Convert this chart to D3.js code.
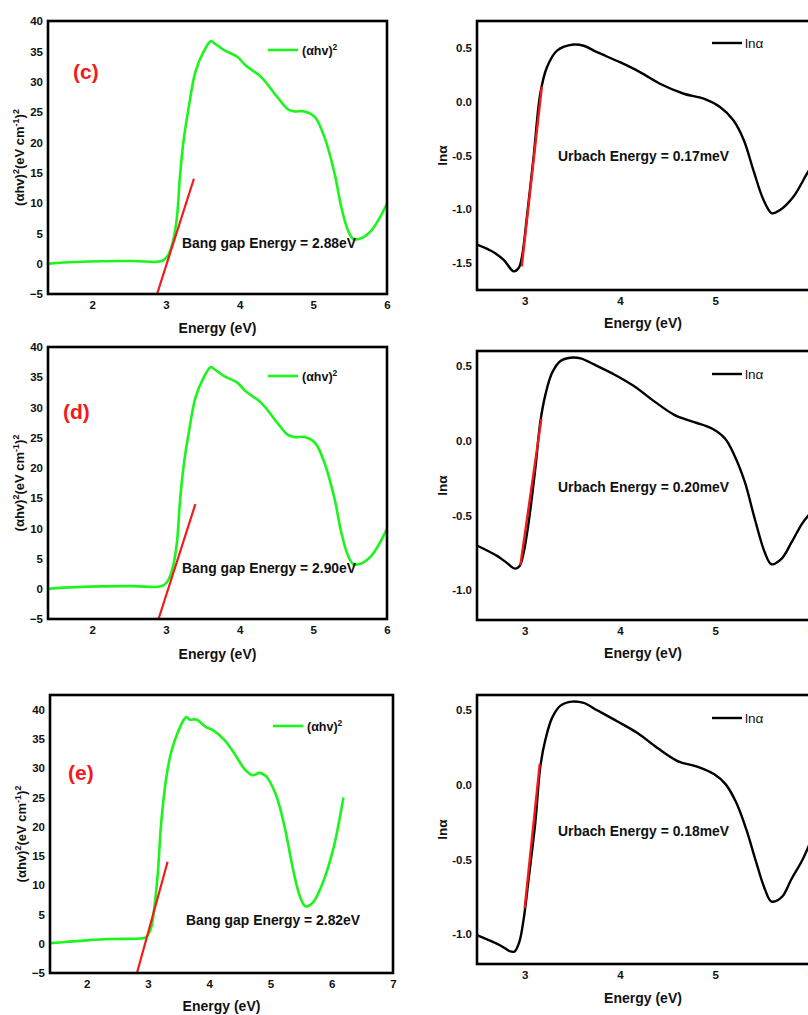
<!DOCTYPE html>
<html>
<head>
<meta charset="utf-8">
<script src="https://cdn.jsdelivr.net/npm/d3@7"></script>
<style>
  html, body { margin: 0; padding: 0; background: #fff; }
  svg { display: block; font-family: "Liberation Sans", Arial, sans-serif; }
  .tick text { font-weight: bold; font-size: 11.5px; fill: #111; }
</style>
</head>
<body>
<svg id="chart" width="808" height="1015"></svg>
<script>
// ---- Tauc plots: (αhν)² versus photon energy ----
const taucEnergyC = [1.41, 1.78, 2.56, 2.87, 2.965, 3.03, 3.10, 3.15, 3.19, 3.24, 3.31, 3.40, 3.51, 3.61, 3.65, 3.79, 3.97, 4.08, 4.29, 4.51, 4.65, 4.74, 4.88, 5.02, 5.15, 5.29, 5.38, 5.47, 5.54, 5.63, 5.79, 6.0];
const taucValueC  = [0.0, 0.27, 0.44, 0.30, 0.55, 1.4, 3.9, 7.7, 14.3, 20.3, 25.8, 31.6, 34.9, 36.7, 36.4, 35.2, 34.1, 32.7, 30.8, 27.5, 25.5, 25.1, 25.1, 24.2, 20.9, 14.8, 9.3, 5.5, 4.1, 4.1, 5.5, 9.9];

const taucEnergyD = [1.41, 1.78, 2.56, 2.87, 2.965, 3.03, 3.10, 3.15, 3.19, 3.24, 3.31, 3.40, 3.51, 3.61, 3.65, 3.79, 3.97, 4.08, 4.29, 4.51, 4.65, 4.74, 4.88, 5.02, 5.15, 5.29, 5.38, 5.47, 5.54, 5.63, 5.79, 6.0];
const taucValueD  = [0.0, 0.27, 0.44, 0.30, 0.55, 1.4, 3.9, 7.7, 14.3, 20.3, 25.8, 31.6, 34.9, 36.7, 36.4, 35.2, 34.1, 32.7, 30.8, 27.5, 25.5, 25.1, 25.1, 24.2, 20.9, 14.8, 9.3, 5.5, 4.1, 4.1, 5.5, 9.9];

const taucEnergyE = [1.40, 1.66, 1.99, 2.37, 2.86, 2.97, 3.05, 3.105, 3.16, 3.215, 3.30, 3.38, 3.49, 3.60, 3.63, 3.68, 3.79, 3.95, 4.06, 4.25, 4.41, 4.58, 4.71, 4.82, 4.93, 5.09, 5.23, 5.37, 5.48, 5.57, 5.69, 5.83, 6.02, 6.19];
const taucValueE  = [0.1, 0.3, 0.57, 0.8, 0.9, 1.1, 2.7, 6.4, 12.0, 20.6, 28.5, 32.8, 36.2, 38.5, 38.75, 38.3, 38.3, 37.0, 36.5, 34.8, 32.5, 29.8, 28.8, 29.2, 28.6, 25.4, 20.0, 12.6, 8.1, 6.4, 7.0, 9.8, 16.0, 25.0];

// optical band gaps (eV) – the tangent is drawn up from each value
const bandGaps = [2.88, 2.90, 2.82];

// ---- Urbach plots: ln α versus photon energy ----
const urbachEnergyC = [2.507, 2.657, 2.78, 2.885, 2.937, 2.972, 3.024, 3.094, 3.164, 3.234, 3.34, 3.514, 3.62, 3.76, 4.0, 4.21, 4.42, 4.67, 4.88, 5.05, 5.19, 5.30, 5.40, 5.507, 5.594, 5.68, 5.82, 5.975, 6.05];
const urbachValueC  = [-1.33, -1.39, -1.47, -1.577, -1.546, -1.44, -1.068, -0.512, 0.074, 0.32, 0.475, 0.531, 0.52, 0.46, 0.367, 0.275, 0.167, 0.074, 0.028, -0.05, -0.173, -0.358, -0.636, -0.914, -1.037, -1.006, -0.883, -0.651, -0.56];

const urbachEnergyD = [2.505, 2.71, 2.81, 2.90, 2.947, 2.99, 3.042, 3.112, 3.165, 3.218, 3.288, 3.376, 3.48, 3.587, 3.728, 3.94, 4.15, 4.36, 4.57, 4.78, 4.96, 5.10, 5.20, 5.31, 5.415, 5.52, 5.59, 5.697, 5.80, 5.91, 5.99, 6.05];
const urbachValueD  = [-0.703, -0.771, -0.816, -0.856, -0.838, -0.748, -0.546, -0.187, 0.128, 0.308, 0.454, 0.533, 0.555, 0.551, 0.51, 0.443, 0.364, 0.263, 0.173, 0.124, 0.083, 0.016, -0.097, -0.276, -0.524, -0.748, -0.827, -0.789, -0.681, -0.557, -0.49, -0.44];

const urbachEnergyE = [2.505, 2.745, 2.85, 2.895, 2.944, 2.99, 3.042, 3.112, 3.165, 3.218, 3.288, 3.376, 3.497, 3.62, 3.76, 3.97, 4.18, 4.39, 4.605, 4.81, 4.99, 5.11, 5.22, 5.325, 5.43, 5.52, 5.59, 5.697, 5.80, 5.91, 5.99, 6.05];
const urbachValueE  = [-1.009, -1.076, -1.116, -1.116, -1.053, -0.898, -0.631, -0.253, 0.124, 0.302, 0.447, 0.529, 0.556, 0.547, 0.498, 0.424, 0.347, 0.247, 0.158, 0.12, 0.069, 0.002, -0.12, -0.298, -0.52, -0.698, -0.782, -0.753, -0.631, -0.509, -0.398, -0.32];

// linear fits over the absorption edge (start, end)
const urbachFitEnergyC = [2.97, 3.18], urbachFitValueC = [-1.53, 0.14];
const urbachFitEnergyD = [2.955, 3.175], urbachFitValueD = [-0.834, 0.146];
const urbachFitEnergyE = [3.0, 3.158], urbachFitValueE = [-0.827, 0.136];
const urbachEnergies = ["0.17", "0.20", "0.18"];

// ---- tick labels ----
const taucTicksX = [2, 3, 4, 5, 6];
const taucTicksXWide = [2, 3, 4, 5, 6, 7];
const taucTicksY = [-5, 0, 5, 10, 15, 20, 25, 30, 35, 40];
const urbachTicksX = [3, 4, 5, 6, 7];
const urbachTicksYC = [-1.5, -1.0, -0.5, 0.0, 0.5];
const urbachTicksYDE = [-1.0, -0.5, 0.0, 0.5];
const panelTags = ["(c)", "(d)", "(e)"];

const GREEN = "#1cf51c", RED = "#f21a1a";
const svg = d3.select("#chart");

function frame(g, x, y) {
  g.append("rect")
    .attr("x", x.range()[0]).attr("y", y.range()[1])
    .attr("width", x.range()[1] - x.range()[0])
    .attr("height", y.range()[0] - y.range()[1])
    .attr("fill", "none").attr("stroke", "#000").attr("stroke-width", 2.6);
}

function axes(g, x, y, xt, yt, fmt) {
  const ax = g.append("g").attr("transform", `translate(0,${y.range()[0]})`)
    .call(d3.axisBottom(x).tickValues(xt).tickSize(0).tickPadding(7).tickFormat(d3.format("d")));
  const ay = g.append("g").attr("transform", `translate(${x.range()[0]},0)`)
    .call(d3.axisLeft(y).tickValues(yt).tickSize(0).tickPadding(5).tickFormat(fmt));
  [ax, ay].forEach(a => { a.select(".domain").remove(); a.selectAll("text").attr("font-family", null); });
}

function tauc(i, box, xDomain, yDomain, xt, energy, value, pos) {
  const g = svg.append("g");
  const x = d3.scaleLinear().domain(xDomain).range([box.x0, box.x1]);
  const y = d3.scaleLinear().domain(yDomain).range([box.y1, box.y0]);
  const clipId = "clip-t" + i;
  g.append("clipPath").attr("id", clipId).append("rect")
    .attr("x", box.x0).attr("y", box.y0).attr("width", box.x1 - box.x0).attr("height", box.y1 - box.y0);
  const pts = energy.map((e, k) => [e, value[k]]);
  const line = d3.line().x(d => x(d[0])).y(d => y(d[1])).curve(d3.curveCatmullRom.alpha(0.5));
  g.append("path").datum(pts).attr("d", line).attr("clip-path", `url(#${clipId})`)
    .attr("fill", "none").attr("stroke", GREEN).attr("stroke-width", 2.6);
  // tangent extrapolated down to the energy axis
  const eg = bandGaps[i];
  g.append("line")
    .attr("x1", x(eg)).attr("y1", y(yDomain[0]))
    .attr("x2", x(eg + 0.5)).attr("y2", y(14))
    .attr("stroke", RED).attr("stroke-width", 2.2);
  frame(g, x, y);
  axes(g, x, y, xt, taucTicksY, d3.format("d"));

  // legend
  g.append("line").attr("x1", pos.legX).attr("x2", pos.legX + 30)
    .attr("y1", pos.legY).attr("y2", pos.legY)
    .attr("stroke", GREEN).attr("stroke-width", 2.6);
  const lt = g.append("text").attr("x", pos.legX + 34).attr("y", pos.legY + 4.5)
    .attr("font-size", 12.5).attr("font-weight", "bold").attr("fill", "#111");
  lt.append("tspan").text("(αhv)");
  lt.append("tspan").attr("font-size", 8.5).attr("dy", -5).text("2");

  g.append("text").attr("x", pos.tagX).attr("y", pos.tagY)
    .attr("font-size", 21).attr("font-weight", "bold").attr("fill", RED).text(panelTags[i]);

  g.append("text").attr("x", pos.gapX).attr("y", pos.gapY)
    .attr("font-size", 13.9).attr("font-weight", "bold").attr("fill", "#111")
    .text(`Bang gap Energy = ${eg.toFixed(2)}eV`);

  g.append("text").attr("x", (box.x0 + box.x1) / 2).attr("y", pos.xTitleY)
    .attr("text-anchor", "middle").attr("font-size", 14).attr("font-weight", "bold").attr("fill", "#111")
    .text("Energy (eV)");

  const yt = g.append("text").attr("transform", `translate(${pos.yTitleX},${(box.y0 + box.y1) / 2}) rotate(-90)`)
    .attr("text-anchor", "middle").attr("font-size", 13).attr("font-weight", "bold").attr("fill", "#111");
  yt.append("tspan").text("(αhv)");
  yt.append("tspan").attr("font-size", 9).attr("dy", -5).text("2");
  yt.append("tspan").attr("dy", 5).text("(eV cm");
  yt.append("tspan").attr("font-size", 9).attr("dy", -5).text("-1");
  yt.append("tspan").attr("dy", 5).text(")");
  yt.append("tspan").attr("font-size", 9).attr("dy", -5).text("2");
}

function urbach(i, box, yDomain, yTicks, energy, value, fitE, fitV, pos) {
  const g = svg.append("g");
  const x = d3.scaleLinear().domain([2.5, 7]).range([box.x0, box.x0 + 4.5 * 95.3]);
  const y = d3.scaleLinear().domain(yDomain).range([box.y1, box.y0]);
  const pts = energy.map((e, k) => [e, value[k]]);
  const line = d3.line().x(d => x(d[0])).y(d => y(d[1])).curve(d3.curveCatmullRom.alpha(0.5));
  g.append("path").datum(pts).attr("d", line)
    .attr("fill", "none").attr("stroke", "#000").attr("stroke-width", 2.4);
  g.append("line")
    .attr("x1", x(fitE[0])).attr("y1", y(fitV[0]))
    .attr("x2", x(fitE[1])).attr("y2", y(fitV[1]))
    .attr("stroke", RED).attr("stroke-width", 2.4);
  frame(g, x, y);
  axes(g, x, y, urbachTicksX, yTicks, d => d.toFixed(1));

  g.append("line").attr("x1", 712).attr("x2", 742).attr("y1", pos.legY).attr("y2", pos.legY)
    .attr("stroke", "#000").attr("stroke-width", 2.4);
  g.append("text").attr("x", 745).attr("y", pos.legY + 4.5)
    .attr("font-size", 13.5).attr("fill", "#111").text("lnα");

  g.append("text").attr("x", 558).attr("y", pos.urbY)
    .attr("font-size", 13.9).attr("font-weight", "bold").attr("fill", "#111")
    .text(`Urbach Energy = ${urbachEnergies[i]}meV`);

  g.append("text").attr("x", 643).attr("y", pos.xTitleY)
    .attr("text-anchor", "middle").attr("font-size", 14).attr("font-weight", "bold").attr("fill", "#111")
    .text("Energy (eV)");

  g.append("text").attr("transform", `translate(447,${(box.y0 + box.y1) / 2}) rotate(-90)`)
    .attr("text-anchor", "middle").attr("font-size", 13.5).attr("font-weight", "bold").attr("fill", "#111")
    .text("lnα");
}

// left column
tauc(0, {x0: 48, x1: 387, y0: 21, y1: 294}, [1.4, 6], [-5, 40], taucTicksX, taucEnergyC, taucValueC,
  {legX: 268, legY: 50, tagX: 73, tagY: 79, gapX: 182, gapY: 247.5, xTitleY: 333, yTitleX: 24});
tauc(1, {x0: 48, x1: 387, y0: 347, y1: 619}, [1.4, 6], [-5, 40], taucTicksX, taucEnergyD, taucValueD,
  {legX: 268, legY: 376, tagX: 63, tagY: 419, gapX: 182, gapY: 572.5, xTitleY: 659, yTitleX: 24});
tauc(2, {x0: 50, x1: 393, y0: 695, y1: 973}, [1.4, 7], [-5, 42.5], taucTicksXWide, taucEnergyE, taucValueE,
  {legX: 273, legY: 726, tagX: 68, tagY: 780, gapX: 186, gapY: 925, xTitleY: 1011, yTitleX: 26});

// right column
urbach(0, {x0: 477, y0: 21, y1: 290}, [-1.75, 0.75], urbachTicksYC, urbachEnergyC, urbachValueC,
  urbachFitEnergyC, urbachFitValueC, {legY: 43, urbY: 161, xTitleY: 328});
urbach(1, {x0: 477, y0: 351, y1: 620}, [-1.2, 0.6], urbachTicksYDE, urbachEnergyD, urbachValueD,
  urbachFitEnergyD, urbachFitValueD, {legY: 374, urbY: 491.5, xTitleY: 658});
urbach(2, {x0: 477, y0: 695, y1: 964}, [-1.2, 0.6], urbachTicksYDE, urbachEnergyE, urbachValueE,
  urbachFitEnergyE, urbachFitValueE, {legY: 718, urbY: 835.5, xTitleY: 1003});
</script>
</body>
</html>
